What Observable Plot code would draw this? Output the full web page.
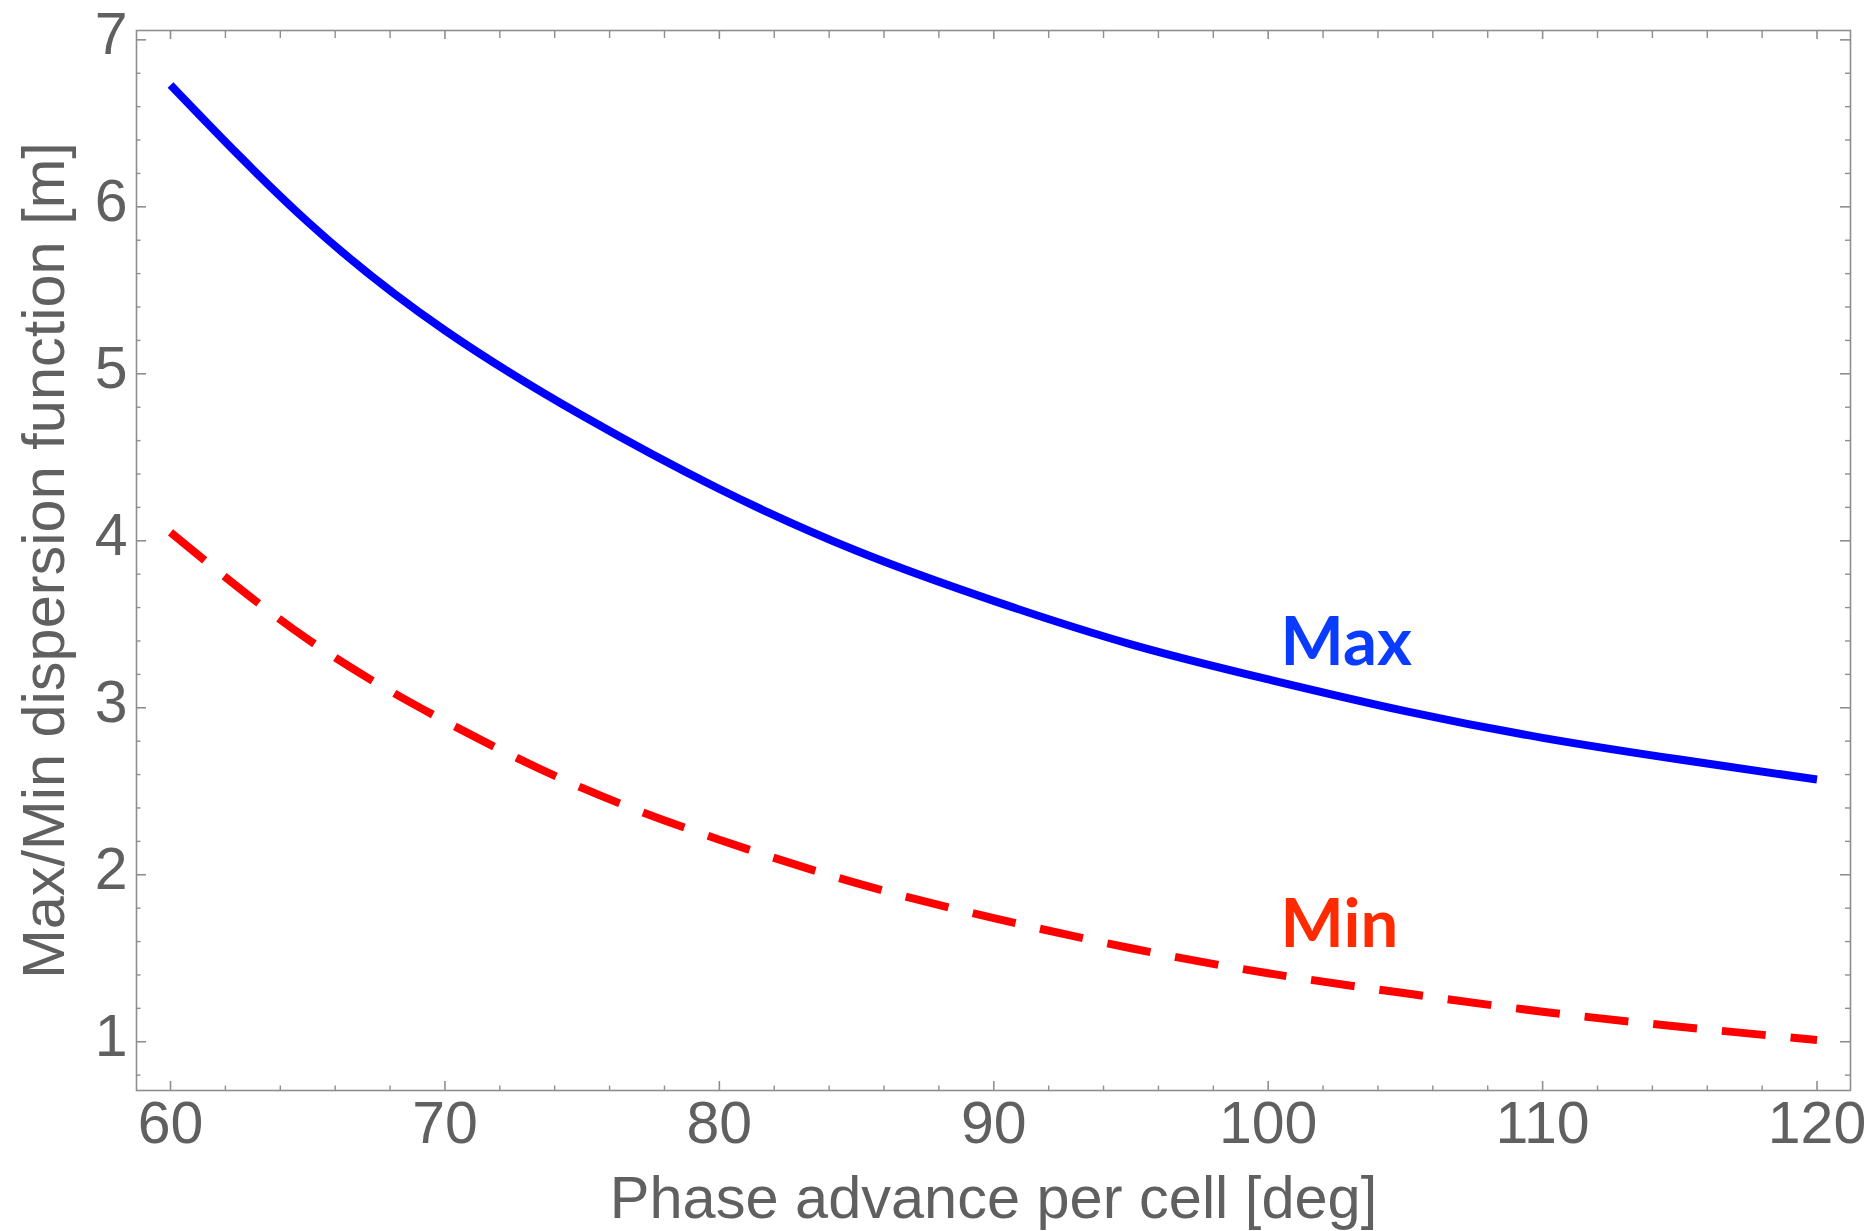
<!DOCTYPE html>
<html><head><meta charset="utf-8">
<script src="https://cdn.jsdelivr.net/npm/d3@7"></script>
<script src="https://cdn.jsdelivr.net/npm/@observablehq/plot@0.6"></script>
<style>html,body{margin:0;padding:0;background:#fff;} #chart svg{display:block;}</style>
</head><body><div id="chart"></div>
<script>
// Phase advance per cell [deg]
const phase   = [60, 65, 70, 75, 80, 85, 90, 95, 100, 105, 110, 115, 120];
// Max dispersion function [m]
const maxDisp = [6.73, 5.91, 5.26, 4.75, 4.31, 3.94, 3.64, 3.38, 3.17, 2.98, 2.82, 2.69, 2.57];
// Min dispersion function [m]
const minDisp = [4.05, 3.41, 2.92, 2.52, 2.21, 1.95, 1.74, 1.56, 1.41, 1.29, 1.18, 1.09, 1.01];
const xTicks = [60, 70, 80, 90, 100, 110, 120];
const yTicks = [1, 2, 3, 4, 5, 6, 7];
const xTitle = "Phase advance per cell [deg]";
const yTitle = "Max/Min dispersion function [m]";
const seriesNames = ["Max", "Min"];

const W = 1872, H = 1231;
const mL = 136, mR = 22, mT = 30, mB = 141;
const innerW = W - mL - mR, innerH = H - mT - mB;
const xMinor = d3.range(60, 121, 2).filter(d => d % 10 !== 0);
const yMinor = d3.range(4, 36).filter(i => i % 5 !== 0).map(i => i / 5);

const maxData = phase.map((p, i) => ({p, v: maxDisp[i]}));
const minData = phase.map((p, i) => ({p, v: minDisp[i]}));

const frameColor = "#8e8e8e";
const textColor = "#606060";

const chart = Plot.plot({
  width: W, height: H,
  marginLeft: mL, marginRight: mR, marginTop: mT, marginBottom: mB,
  style: {fontFamily: "'Liberation Sans', Arial, Helvetica, sans-serif", background: "#fff"},
  x: {domain: [58.76, 121.22]},
  y: {domain: [0.708, 7.056]},
  marks: [
    Plot.frame({stroke: frameColor, strokeWidth: 1.6}),
    // bottom ticks
    Plot.tickX(xTicks, {x: d => d, stroke: frameColor, strokeWidth: 1.6, insetTop: innerH - 9}),
    Plot.tickX(xMinor, {x: d => d, stroke: frameColor, strokeWidth: 1.4, insetTop: innerH - 4.5}),
    // top ticks
    Plot.tickX(xTicks, {x: d => d, stroke: frameColor, strokeWidth: 1.6, insetBottom: innerH - 9}),
    Plot.tickX(xMinor, {x: d => d, stroke: frameColor, strokeWidth: 1.4, insetBottom: innerH - 8}),
    // left ticks
    Plot.tickY(yTicks, {y: d => d, stroke: frameColor, strokeWidth: 1.6, insetRight: innerW - 10}),
    Plot.tickY(yMinor, {y: d => d, stroke: frameColor, strokeWidth: 1.4, insetRight: innerW - 4.5}),
    // right ticks
    Plot.tickY(yTicks, {y: d => d, stroke: frameColor, strokeWidth: 1.6, insetLeft: innerW - 10}),
    Plot.tickY(yMinor, {y: d => d, stroke: frameColor, strokeWidth: 1.4, insetLeft: innerW - 5}),
    Plot.axisX({anchor: "bottom", ticks: xTicks, tickFormat: d => String(d), tickSize: 0, tickPadding: 11, fontSize: 59, color: textColor, label: null}),
    Plot.axisY({anchor: "left", ticks: yTicks, tickFormat: d => String(d), tickSize: 0, tickPadding: 9, fontSize: 59, color: textColor, label: null, dy: -5}),
    Plot.line(maxData, {x: "p", y: "v", stroke: "#0000ff", strokeWidth: 8, curve: "natural", strokeLinecap: "butt"}),
    Plot.line(minData, {x: "p", y: "v", stroke: "#ff0000", strokeWidth: 8, curve: "natural", strokeLinecap: "butt", strokeDasharray: "44,25"}),
    Plot.text([seriesNames[0]], {x: [100.45], y: [3.254], text: d => d, textAnchor: "start", lineAnchor: "bottom",
      fill: "#0a3cff", fontSize: 67, fontWeight: "bold", fontFamily: "Lato, 'Open Sans', sans-serif"}),
    Plot.text([seriesNames[1]], {x: [100.45], y: [1.565], text: d => d, textAnchor: "start", lineAnchor: "bottom",
      fill: "#ff2a00", fontSize: 67, fontWeight: "bold", fontFamily: "Lato, 'Open Sans', sans-serif"}),
    Plot.text([xTitle], {frameAnchor: "bottom", text: d => d, dy: 127, textAnchor: "middle", lineAnchor: "bottom",
      fontSize: 59.5, fill: textColor}),
    Plot.text([yTitle], {frameAnchor: "left", text: d => d, dx: -73, rotate: -90, textAnchor: "middle", lineAnchor: "bottom",
      fontSize: 59.5, fill: textColor})
  ]
});
document.getElementById("chart").appendChild(chart);
</script>
</body></html>
